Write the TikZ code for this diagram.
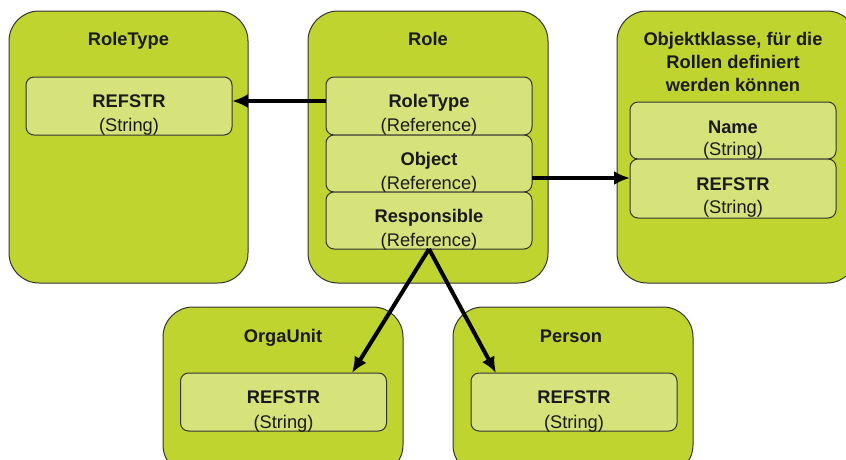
\documentclass[tikz,border=0pt]{standalone}
\usepackage{fontspec}
\setmainfont{Liberation Sans}
\usetikzlibrary{arrows.meta}
\definecolor{outerfill}{HTML}{C0D42F}
\definecolor{innerfill}{HTML}{D5E37A}
\definecolor{edgecol}{HTML}{333333}
\definecolor{txtcol}{HTML}{1A1A1A}
\begin{document}
\begin{tikzpicture}[x=1pt,y=-1pt,
  outerbox/.style={draw=edgecol, line width=1pt, fill=outerfill, rounded corners=30pt, inner sep=0pt, outer sep=0pt},
  innerbox/.style={draw=edgecol, line width=1pt, fill=innerfill, rounded corners=8pt, inner sep=0pt, outer sep=0pt, minimum width=206pt},
  titletxt/.style={font=\fontsize{18.3}{23}\selectfont\bfseries, text=txtcol, align=center, inner sep=0pt, anchor=base},
  titleml/.style={font=\fontsize{18.3}{23}\selectfont\bfseries, text=txtcol, align=center, inner sep=0pt, anchor=north},
  nametxt/.style={font=\fontsize{18.3}{23}\selectfont\bfseries, text=txtcol, inner sep=0pt, anchor=base},
  typetxt/.style={font=\fontsize{18.3}{23}\selectfont, text=txtcol, inner sep=0pt, anchor=base},
  conn/.style={line width=4pt, -{Latex[length=16pt,width=14pt]}}]
\useasboundingbox (0,0) rectangle (846,459);
\clip (0,0) rectangle (846,459);

% outer boxes
\node[outerbox, minimum width=239pt, minimum height=272pt] (rtbox) at (128.5,147) {};
\node[outerbox, minimum width=240pt, minimum height=272pt] (rolebox) at (428,147) {};
\node[outerbox, minimum width=240pt, minimum height=272pt] (objbox) at (737,147) {};
\node[outerbox, minimum width=240pt, minimum height=168pt] (oubox) at (283,391) {};
\node[outerbox, minimum width=240pt, minimum height=168pt] (perbox) at (573,391) {};

% titles
\node[titletxt] (rttitle) at (128.5,45.5) {RoleType};
\node[titletxt] (roletitle) at (428,45.5) {Role};
\node[titleml] (objtitle) at (733,32.5) {Objektklasse, für die\\Rollen definiert\\werden können};
\node[titletxt] (outitle) at (283,342) {OrgaUnit};
\node[titletxt] (pertitle) at (571,342) {Person};

% inner boxes
\node[innerbox, minimum height=58pt] (rtref) at (129,106) {};
\node[nametxt] (rtrefn) at (129,107.5) {REFSTR};
\node[typetxt] (rtreft) at (129,131.5) {(String)};

\node[innerbox, minimum height=58pt] (rrt) at (429,106) {};
\node[nametxt] (rrtn) at (429,107.5) {RoleType};
\node[typetxt] (rrtt) at (429,131.5) {(Reference)};

\node[innerbox, minimum height=57pt] (robj) at (429,163.5) {};
\node[nametxt] (robjn) at (429,165.5) {Object};
\node[typetxt] (robjt) at (429,189.5) {(Reference)};

\node[innerbox, minimum height=57pt] (rresp) at (429,220.5) {};
\node[nametxt] (rrespn) at (429,222.5) {Responsible};
\node[typetxt] (rrespt) at (429,246.5) {(Reference)};

\node[innerbox, minimum height=57pt] (oname) at (733,130.5) {};
\node[nametxt] (onamen) at (733,133) {Name};
\node[typetxt] (onamet) at (733,155.5) {(String)};

\node[innerbox, minimum height=59pt] (oref) at (733,188.5) {};
\node[nametxt] (orefn) at (733,190.5) {REFSTR};
\node[typetxt] (oreft) at (733,213.5) {(String)};

\node[innerbox, minimum height=58pt] (ouref) at (283.5,402) {};
\node[nametxt] (ourefn) at (283.5,403.5) {REFSTR};
\node[typetxt] (oureft) at (283.5,428) {(String)};

\node[innerbox, minimum height=58pt] (perref) at (574,402) {};
\node[nametxt] (perrefn) at (574,403.5) {REFSTR};
\node[typetxt] (perreft) at (574,428) {(String)};

% connectors
\draw[conn] ([yshift=5pt]rrt.west) -- ([yshift=5pt]rtref.east);
\draw[conn] ([yshift=-14.5pt]robj.east) -- ([yshift=10.5pt]oref.west);
\draw[conn] (rresp.south) -- ([xshift=68.5pt]ouref.north);
\draw[conn] (rresp.south) -- ([xshift=-78pt]perref.north);
\end{tikzpicture}
\end{document}
